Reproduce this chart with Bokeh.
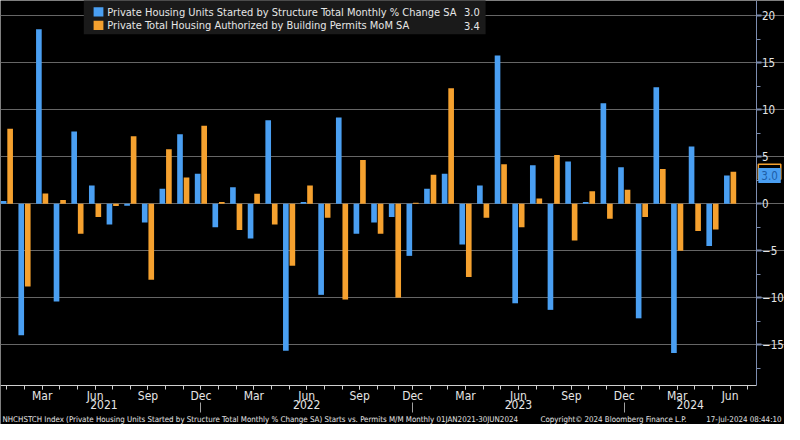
from bokeh.plotting import figure
from bokeh.models import (ColumnDataSource, LinearAxis, FixedTicker, Label,
                          BoxAnnotation, Range1d)
from bokeh.transform import dodge
from bokeh.embed import file_html
from bokeh.resources import INLINE

# ---------------- data ----------------
month_idx = list(range(42))  # Jan 2021 .. Jun 2024
starts = [0.3, -14.0, 18.6, -10.4, 7.7, 1.95, -2.2, -0.2, -2.0, 1.6, 7.4, 3.2,
          -2.5, 1.75, -3.7, 8.9, -15.65, 0.2, -9.7, 9.2, -3.2, -2.0, -1.4, -5.55,
          1.6, 3.2, -4.35, 1.95, 15.8, -10.6, 4.1, -11.3, 4.5, 0.2, 10.7, 3.9,
          -12.2, 12.4, -15.9, 6.1, -4.5, 3.0]
permits = [8.0, -8.8, 1.1, 0.4, -3.2, -1.4, -0.25, 7.2, -8.1, 5.8, 2.8, 8.3,
           0.2, -2.8, 1.06, -2.2, -6.6, 1.95, -1.5, -10.2, 4.66, -3.2, -10.0, 0.1,
           3.1, 12.3, -7.8, -1.5, 4.2, -2.5, 0.55, 5.2, -3.9, 1.34, -1.6, 1.5,
           -1.4, 3.7, -5.0, -2.9, -2.75, 3.4]
month_tick_idx = [2, 5, 8, 11, 14, 17, 20, 23, 26, 29, 32, 35, 38, 41]
month_tick_labels = ["Mar", "Jun", "Sep", "Dec", "Mar", "Jun", "Sep", "Dec",
                     "Mar", "Jun", "Sep", "Dec", "Mar", "Jun"]
year_labels = ["2021", "2022", "2023", "2024"]
year_sep_idx = [11, 23, 35]
y_ticks = [-15, -10, -5, 0, 5, 10, 15, 20]
y_minor = [-17.5, -12.5, -7.5, -2.5, 2.5, 7.5, 12.5, 17.5]
name_starts = "Private Housing Units Started by Structure Total Monthly % Change SA"
name_permits = "Private Total Housing Authorized by Building Permits MoM SA"
last_starts = "3.0"
last_permits = "3.4"
footer_left = ("NHCHSTCH Index (Private Housing Units Started by Structure Total Monthly % Change SA) "
               "Starts vs. Permits M/M  Monthly 01JAN2021-30JUN2024")
footer_mid = "Copyright\u00a9 2024 Bloomberg Finance L.P."
footer_right = "17-Jul-2024 08:44:10"

# ---------------- style / layout ----------------
BLUE = "#4a9ff2"
ORANGE = "#f5a12f"
FONT = "DejaVu Sans Condensed, DejaVu Sans"
TXT = "#e6e6e6"
W, H = 784, 424
SX, SY = W / 800.0, H / 440.0

X0, X1 = -0.361, 44.083      # whole canvas
XAX = 42.47                  # right value axis position
Y0, Y1 = -23.51, 21.65       # whole canvas
YAX = -19.31                 # month axis position
YYR = -20.85                 # year label axis position
YSEP = -21.14                # year separator position


def sx(rx):
    return rx * SX


def sy(ry):
    return H - ry * SY


src = ColumnDataSource(dict(x=month_idx, starts=starts, permits=permits))

p = figure(width=W, height=H, output_backend="svg", toolbar_location=None,
           x_range=Range1d(X0, X1), y_range=Range1d(Y0, Y1),
           y_axis_location="right", x_axis_location="below",
           min_border=0, min_border_left=0, min_border_right=0,
           min_border_top=0, min_border_bottom=0,
           background_fill_color="black", border_fill_color="black")
p.outline_line_color = None

p.vbar(x=dodge("x", -0.185, range=p.x_range), top="starts", width=0.32,
       source=src, fill_color=BLUE, line_color=None)
p.vbar(x=dodge("x", 0.185, range=p.x_range), top="permits", width=0.32,
       source=src, fill_color=ORANGE, line_color=None)

# grid
p.xgrid.visible = False
p.ygrid.ticker = FixedTicker(ticks=y_ticks)
p.ygrid.bounds = (X0, XAX)
p.ygrid.grid_line_color = "#666666"
p.ygrid.grid_line_width = 1

# right value axis
ya = p.yaxis[0]
ya.fixed_location = XAX
ya.bounds = (YAX, Y1)
ya.ticker = FixedTicker(ticks=y_ticks, minor_ticks=y_minor)
ya.axis_line_color = "#7d8db0"
ya.major_tick_line_color = "#7d8db0"
ya.major_tick_line_width = 2
ya.major_tick_out = 5
ya.major_tick_in = 0
ya.minor_tick_line_color = "#7d8db0"
ya.minor_tick_out = 4
ya.minor_tick_in = 0
ya.major_label_text_color = TXT
ya.major_label_text_font = FONT
ya.major_label_text_font_size = "11.5px"
ya.major_label_standoff = 1

# bottom month axis
xa = p.xaxis[0]
xa.fixed_location = YAX
xa.bounds = (X0, XAX)
xa.ticker = FixedTicker(ticks=month_tick_idx, minor_ticks=month_idx + [42])
xa.major_label_overrides = dict(zip(month_tick_idx, month_tick_labels))
xa.axis_line_color = "#cfcfcf"
xa.major_tick_line_color = "#cfcfcf"
xa.minor_tick_line_color = "#cfcfcf"
xa.major_tick_out = 4
xa.major_tick_in = 0
xa.minor_tick_out = 4
xa.minor_tick_in = 0
xa.major_label_standoff = 0
xa.major_label_text_color = TXT
xa.major_label_text_font = FONT
xa.major_label_text_font_size = "12px"

# year labels
bounds = [0] + year_sep_idx + [XAX]
year_pos = [(bounds[i] + bounds[i + 1]) / 2 for i in range(len(year_labels))]
yl = LinearAxis(fixed_location=YYR, bounds=(X0, XAX),
                ticker=FixedTicker(ticks=year_pos, minor_ticks=[]),
                major_label_overrides=dict(zip(year_pos, year_labels)),
                axis_line_color=None, major_tick_line_color=None,
                minor_tick_line_color=None,
                major_tick_out=0, major_tick_in=0, minor_tick_out=0, minor_tick_in=0,
                major_label_standoff=0,
                major_label_text_color=TXT, major_label_text_font=FONT,
                major_label_text_font_size="12px")
p.add_layout(yl, "below")

# year separators
ys = LinearAxis(fixed_location=YSEP, bounds=(X0, XAX),
                ticker=FixedTicker(ticks=year_sep_idx, minor_ticks=[]),
                major_label_overrides={k: " " for k in year_sep_idx},
                axis_line_color=None, major_tick_line_color="#a0a0a0",
                major_tick_line_width=1,
                major_tick_out=10, major_tick_in=0,
                minor_tick_line_color=None, minor_tick_out=0, minor_tick_in=0,
                major_label_text_font_size="1px", major_label_text_alpha=0)
p.add_layout(ys, "below")

# legend (manual, with last values)
scr = dict(left_units="screen", right_units="screen",
           bottom_units="screen", top_units="screen")
p.add_layout(BoxAnnotation(left=sx(85), right=sx(495), bottom=sy(35), top=H + 2,
                           fill_color="#1a1a1a", fill_alpha=1.0, line_color=None, **scr))
p.add_layout(BoxAnnotation(left=sx(95), right=sx(105), bottom=sy(16.5), top=sy(7),
                           fill_color=BLUE, fill_alpha=1.0, line_color=None, **scr))
p.add_layout(BoxAnnotation(left=sx(95), right=sx(105), bottom=sy(30.5), top=sy(21),
                           fill_color=ORANGE, fill_alpha=1.0, line_color=None, **scr))
for txt, ry in ((name_starts, 12), (name_permits, 26)):
    p.add_layout(Label(x=sx(109), y=sy(ry), x_units="screen", y_units="screen", text=txt,
                       text_baseline="middle", text_color=TXT, text_font=FONT,
                       text_font_size="11px"))
for txt, ry in ((last_starts, 12), (last_permits, 26)):
    p.add_layout(Label(x=sx(489), y=sy(ry), x_units="screen", y_units="screen", text=txt,
                       text_baseline="middle", text_align="right", text_color=TXT,
                       text_font=FONT, text_font_size="11px"))

# last-value tags on the right axis
p.add_layout(Label(x=42.6, y=permits[-1], x_units="data", y_units="data",
                   text=last_permits, text_baseline="middle", text_color="#000000",
                   text_font=FONT, text_font_size="11.5px",
                   background_fill_color="#000000", border_line_color=ORANGE,
                   border_line_width=1.5, padding=3))
p.add_layout(Label(x=42.6, y=starts[-1], x_units="data", y_units="data",
                   text=last_starts, text_baseline="middle", text_color="#1d5ea8",
                   text_font=FONT, text_font_size="11.5px",
                   background_fill_color=BLUE, padding=3))

# footer
for txt, rx, al in ((footer_left, 2, "left"), (footer_mid, 551, "left"),
                    (footer_right, 797, "right")):
    p.add_layout(Label(x=sx(rx), y=sy(435), x_units="screen", y_units="screen", text=txt,
                       text_baseline="middle", text_align=al, text_color=TXT,
                       text_font=FONT, text_font_size="7.9px"))

open("out.html", "w").write(file_html(p, INLINE))
